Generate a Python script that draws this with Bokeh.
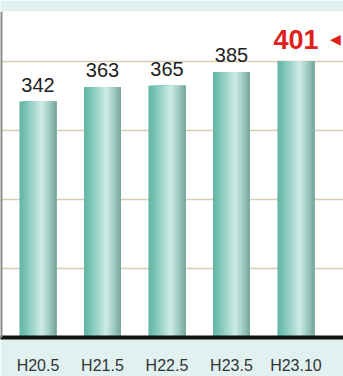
import numpy as np
from bokeh.plotting import figure
from bokeh.models import Range1d, FixedTicker, Span, ColumnDataSource
from bokeh.core.properties import value
from bokeh.embed import file_html
from bokeh.resources import INLINE

categories = ["H20.5", "H21.5", "H22.5", "H23.5", "H23.10"]
values = [342, 363, 365, 385, 401]
grid_ticks = [100, 200, 300, 400]

BAR_W = 0.574
idx = list(range(len(categories)))

p = figure(width=343, height=376, output_backend="svg", toolbar_location=None,
           x_range=Range1d(-0.581, 4.737), y_range=Range1d(0, 472.6),
           min_border_left=0, min_border_right=0, min_border_top=11, min_border_bottom=29)
p.border_fill_color = "#e0f1f0"
p.background_fill_color = "white"
p.outline_line_color = None

p.yaxis.visible = False
p.xgrid.visible = False
p.ygrid.ticker = FixedTicker(ticks=grid_ticks)
p.ygrid.grid_line_color = "#d8ccb4"
p.ygrid.grid_line_width = 1.5

# gradient bars made of thin strips
stops = [(0.0, (98, 181, 163)), (0.15, (118, 194, 178)), (0.6, (206, 235, 231)),
         (0.85, (150, 196, 188)), (1.0, (116, 163, 153))]
N = 24
def col(t):
    for (t0, c0), (t1, c1) in zip(stops[:-1], stops[1:]):
        if t0 <= t <= t1:
            f = (t - t0) / (t1 - t0)
            c = [int(round(a + (b - a) * f)) for a, b in zip(c0, c1)]
            return "#%02x%02x%02x" % tuple(c)
    return "#%02x%02x%02x" % stops[-1][1]

sw = BAR_W / N
xs, tops, cols, ws = [], [], [], []
for i, v in zip(idx, values):
    for k in range(N):
        t = (k + 0.5) / N
        left = i - BAR_W / 2 + k * sw
        w = (BAR_W - k * sw) if k < N - 1 else sw
        xs.append(left + w / 2)
        ws.append(w)
        tops.append(v)
        cols.append(col(t))
p.vbar(x=xs, top=tops, bottom=0, width=ws, fill_color=cols, line_color=None)

# value labels
src = ColumnDataSource(dict(x=idx[:-1], y=values[:-1], t=[str(v) for v in values[:-1]]))
p.text(x="x", y="y", text="t", source=src, text_align="center", text_baseline="bottom",
       y_offset=-10, text_font=value("Liberation Sans"), text_font_size="20px", text_color="#222222")
p.text(x=[idx[-1]], y=[values[-1]], text=[str(values[-1])], text_align="center",
       text_baseline="bottom", y_offset=-12, text_font=value("Liberation Sans"),
       text_font_size="27px", text_font_style="bold", text_color="#e0201b")
p.text(x=[idx[-1]], y=[values[-1]], text=["◀"], text_align="left", text_baseline="middle",
       x_offset=34, y_offset=-22, text_font=value("DejaVu Sans"), text_font_size="14px",
       text_color="#e0201b")

# left border line
p.add_layout(Span(location=-0.581, dimension="height", line_color="#8c8c8c", line_width=4))

# x axis
p.xaxis.ticker = FixedTicker(ticks=idx)
p.xaxis.major_label_overrides = {i: c for i, c in zip(idx, categories)}
p.xaxis.axis_line_color = "#111111"
p.xaxis.axis_line_width = 4
p.xaxis.major_tick_line_color = None
p.xaxis.minor_tick_line_color = None
p.xaxis.major_label_standoff = 13
p.xaxis.major_label_text_font = "Liberation Sans"
p.xaxis.major_label_text_font_size = "16px"
p.xaxis.major_label_text_color = "#333333"

open("out.html", "w").write(file_html(p, INLINE))
